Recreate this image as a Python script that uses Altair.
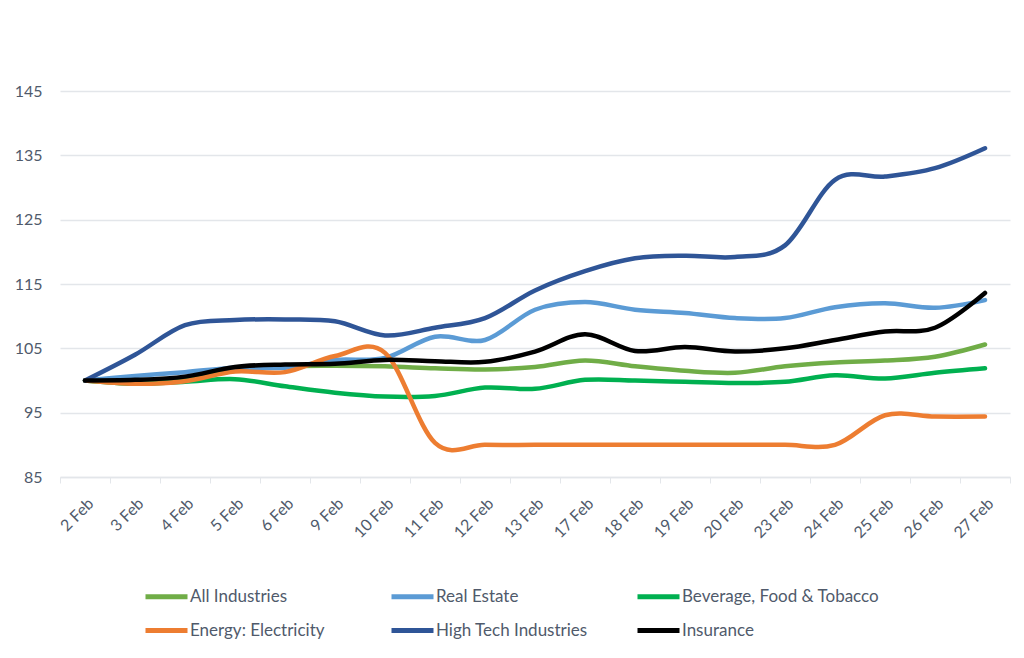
import altair as alt
import pandas as pd

dates = ["2 Feb", "3 Feb", "4 Feb", "5 Feb", "6 Feb", "9 Feb", "10 Feb", "11 Feb", "12 Feb", "13 Feb",
         "17 Feb", "18 Feb", "19 Feb", "20 Feb", "23 Feb", "24 Feb", "25 Feb", "26 Feb", "27 Feb"]

series_names = ["All Industries", "Real Estate", "Beverage, Food & Tobacco",
                "Energy: Electricity", "High Tech Industries", "Insurance"]
series_colors = ["#70AD47", "#5B9BD5", "#00B050", "#ED7D31", "#2F5597", "#000000"]

all_industries = [100, 99.8, 100.3, 101.5, 102.2, 102.3, 102.2, 101.9, 101.7, 102.1,
                  103.1, 102.2, 101.5, 101.2, 102.2, 102.8, 103.1, 103.7, 105.6]
real_estate = [100, 100.7, 101.3, 102.0, 102.0, 103.2, 103.5, 106.8, 106.3, 111.0,
               112.2, 111.0, 110.5, 109.7, 109.7, 111.4, 112.0, 111.3, 112.5]
beverage = [100, 99.5, 99.8, 100.2, 99.1, 98.1, 97.5, 97.6, 98.9, 98.7,
            100.1, 100.0, 99.8, 99.6, 99.8, 100.8, 100.3, 101.2, 101.9]
energy = [100, 99.5, 99.9, 101.4, 101.3, 103.8, 104.3, 90.3, 90.0, 90.0,
          90.0, 90.0, 90.0, 90.0, 90.0, 90.0, 94.6, 94.4, 94.4]
high_tech = [100, 104.0, 108.6, 109.4, 109.5, 109.2, 107.0, 108.2, 109.7, 114.0,
             117.0, 119.0, 119.4, 119.2, 121.0, 131.2, 131.7, 133.0, 136.1]
insurance = [100, 100.1, 100.6, 102.1, 102.5, 102.6, 103.2, 103.0, 102.9, 104.5,
             107.2, 104.6, 105.2, 104.5, 105.0, 106.3, 107.6, 108.2, 113.6]

values = [all_industries, real_estate, beverage, energy, high_tech, insurance]

rows = []
for order, (name, vals) in enumerate(zip(series_names, values)):
    for d, v in zip(dates, vals):
        rows.append({"date": d, "series": name, "value": v, "order": order})
df = pd.DataFrame(rows)

text_color = "#505A6B"
grid_color = "#E3E6EA"
font = "Lato"

chart = alt.Chart(df).mark_line(
    interpolate="cardinal", strokeWidth=4.5, strokeCap="round", strokeJoin="round"
).encode(
    x=alt.X("date:N", sort=dates, title=None,
            scale=alt.Scale(paddingInner=0, paddingOuter=0),
            axis=alt.Axis(labelAngle=-45, labelFontSize=16, labelColor=text_color, labelFont=font,
                          tickBand="extent", ticks=True, tickColor=grid_color, tickSize=6,
                          domainColor=grid_color, domainWidth=1.5, grid=False, labelPadding=12)),
    y=alt.Y("value:Q", title=None,
            scale=alt.Scale(domain=[85, 145], nice=False, zero=False),
            axis=alt.Axis(values=[85, 95, 105, 115, 125, 135, 145], labelFontSize=16,
                          labelColor=text_color, labelFont=font, domain=False, ticks=False,
                          gridColor=grid_color, gridWidth=1.5, labelPadding=18)),
    color=alt.Color("series:N", sort=series_names,
                    scale=alt.Scale(domain=series_names, range=series_colors),
                    legend=alt.Legend(title=None, orient="none", legendX=82, legendY=497,
                                      direction="horizontal",
                                      columns=3, symbolType="M-1,0H7.4", symbolSize=100,
                                      symbolStrokeWidth=5, labelFontSize=17, labelColor=text_color,
                                      labelFont=font, labelOffset=31, labelLimit=300,
                                      columnPadding=-8, rowPadding=13, gridAlign="all")),
    order=alt.Order("order:Q"),
    detail="series:N",
).properties(
    width=950,
    height=386,
    autosize=alt.AutoSizeParams(type="none"),
    padding={"left": 52, "top": 83, "right": 6, "bottom": 170},
).configure_view(stroke=None)

chart.save("out.html", embed_options={"renderer": "svg", "actions": False})
